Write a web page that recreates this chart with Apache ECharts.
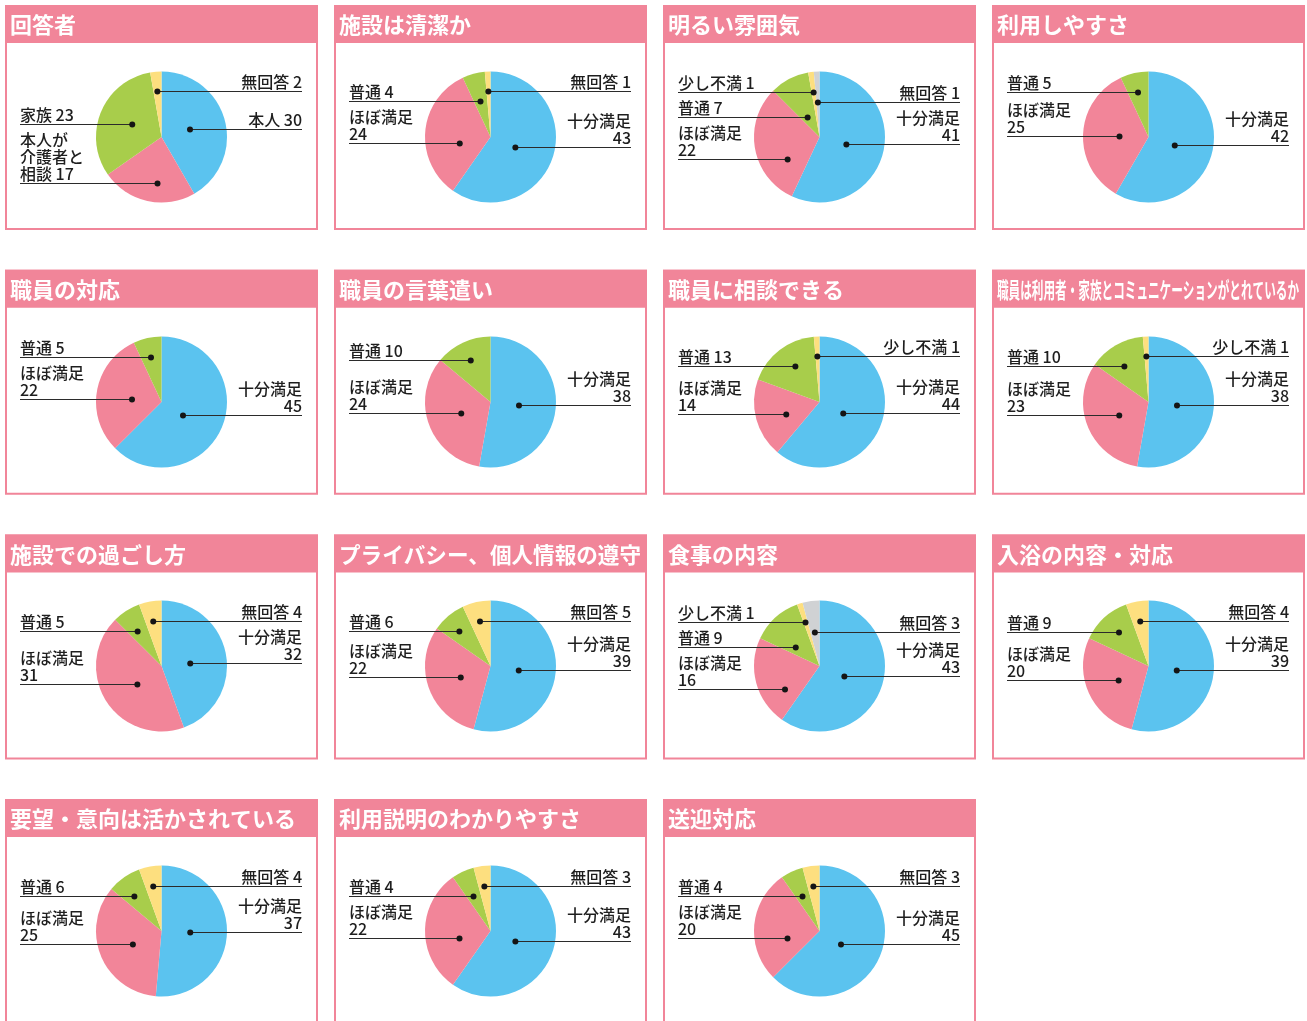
<!DOCTYPE html>
<html>
<head>
<meta charset="utf-8">
<script src="https://cdn.jsdelivr.net/npm/echarts@6/dist/echarts.min.js"></script>
<style>
  html, body { margin: 0; padding: 0; background: #fff; }
  #main { width: 1307px; height: 1021px; }
</style>
</head>
<body>
<div id="main"></div>
<script>
// panel titles
var titles = [
  '回答者', '施設は清潔か', '明るい雰囲気', '利用しやすさ',
  '職員の対応', '職員の言葉遣い', '職員に相談できる', '職員は利用者・家族とコミュニケーションがとれているか',
  '施設での過ごし方', 'プライバシー、個人情報の遵守', '食事の内容', '入浴の内容・対応',
  '要望・意向は活かされている', '利用説明のわかりやすさ', '送迎対応'
];

// categories
var whoNames = ['本人', '本人が\n介護者と\n相談', '家族', '無回答'];
var sat3 = ['十分満足', 'ほぼ満足', '普通'];
var sat4 = ['十分満足', 'ほぼ満足', '普通', '無回答'];
var sat4b = ['十分満足', 'ほぼ満足', '普通', '少し不満'];
var sat5 = ['十分満足', 'ほぼ満足', '普通', '少し不満', '無回答'];

// values (72 answers each)
var vWho = [30, 17, 23, 2];
var vClean = [43, 24, 4, 1];
var vBright = [41, 22, 7, 1, 1];
var vEase = [42, 25, 5];
var vStaff = [45, 22, 5];
var vWords = [38, 24, 10];
var vConsult = [44, 14, 13, 1];
var vCommu = [38, 23, 10, 1];
var vStay = [32, 31, 5, 4];
var vPrivacy = [39, 22, 6, 5];
var vMeal = [43, 16, 9, 1, 3];
var vBath = [39, 20, 9, 4];
var vWish = [37, 25, 6, 4];
var vExplain = [43, 22, 4, 3];
var vPickup = [45, 20, 4, 3];

var panelNames = [whoNames, sat4, sat5, sat3, sat3, sat3, sat4b, sat4b, sat4, sat4, sat5, sat4, sat4, sat4, sat4];
var panelValues = [vWho, vClean, vBright, vEase, vStaff, vWords, vConsult, vCommu, vStay, vPrivacy, vMeal, vBath, vWish, vExplain, vPickup];

var palette = ['#5bc3ef', '#f28599', '#a8cd4b', '#fddf7f', '#d0d2d4'];
var pink = '#f18599';
var fontJP = '"Noto Sans CJK JP", "Noto Sans", sans-serif';

var R = 65.5, LH = 17, GAP = 8;

function labelText(name, value) {
  return name.indexOf('満足') >= 0 ? name + '\n' + value : name + ' ' + value;
}

// work out where each label line and its dot go
function layoutPanel(idx, names, vals) {
  var col = idx % 4, row = Math.floor(idx / 4);
  var ox = 5 + col * 329, oy = 5 + row * 264.7;
  var cx = ox + 156.5, cy = oy + 132;
  var total = vals.reduce(function (a, b) { return a + b; }, 0);
  var acc = 0;
  var items = vals.map(function (v, k) {
    var s = acc / total * 360; acc += v; var e = acc / total * 360;
    var mid = (s + e) / 2, share = v / total;
    var f = share >= 0.2 ? 0.5 : 0.7;
    var right = k === 0 || (k === vals.length - 1 && vals.length >= 4);
    var lines = labelText(names[k], v).split('\n').length;
    return { k: k, s: s, e: e, mid: mid, f: f, share: share, right: right, h: lines * LH,
      y: -f * R * Math.cos(mid * Math.PI / 180) };
  });
  function settle(side) {
    var list = items.filter(function (it) { return it.right === side; })
      .sort(function (a, b) { return a.y - b.y; });
    for (var j = 1; j < list.length; j++) {
      list[j].y = Math.max(list[j].y, list[j - 1].y + list[j].h + GAP);
    }
  }
  settle(false); settle(true);
  // near the top the dots of both sides sit close together: keep their lines apart
  items.forEach(function (l) {
    if (l.right || l.y > -20) return;
    items.forEach(function (r) {
      if (!r.right || r.y > -20 || Math.abs(l.y - r.y) >= 10) return;
      if (l.share > r.share) l.y = r.y + 10; else r.y = l.y + 10;
    });
  });
  settle(false); settle(true);
  items.forEach(function (it) {
    it.y = Math.round(it.y);
    var lo = Infinity, hi = -Infinity;
    for (var x = -R; x <= R; x += 0.25) {
      if (x * x + it.y * it.y > Math.pow(0.88 * R, 2)) continue;
      var a = Math.atan2(x, -it.y) * 180 / Math.PI;
      if (a < 0) a += 360;
      if (a >= it.s && a <= it.e) { lo = Math.min(lo, x); hi = Math.max(hi, x); }
    }
    it.x = lo <= hi ? (lo + hi) / 2 : it.f * R * Math.sin(it.mid * Math.PI / 180);
  });
  return { ox: ox, oy: oy, cx: cx, cy: Math.round(cy), items: items };
}

var layouts = panelValues.map(function (vals, i) { return layoutPanel(i, panelNames[i], vals); });

var measureCtx = document.createElement('canvas').getContext('2d');

var graphics = [];
var series = [];

layouts.forEach(function (L, i) {
  // box + header
  graphics.push({
    type: 'rect', z: 0,
    shape: { x: L.ox + 1, y: L.oy + 1, width: 311, height: 223 },
    style: { fill: '#fff', stroke: pink, lineWidth: 2 }
  });
  graphics.push({
    type: 'rect', z: 1,
    shape: { x: L.ox, y: L.oy, width: 313, height: 38 },
    style: { fill: pink }
  });
  var titleFont = 'bold 22px ' + fontJP;
  measureCtx.font = titleFont;
  var tw = measureCtx.measureText(titles[i]).width;
  graphics.push({
    type: 'text', z: 2,
    x: L.ox + 5, y: L.oy + 20,
    scaleX: Math.min(1, 302 / tw),
    style: { text: titles[i], x: 0, y: 0, fill: '#fff', font: titleFont, verticalAlign: 'middle' }
  });
  // leader lines and dots
  L.items.forEach(function (it) {
    var ly = L.cy + it.y + 0.5;
    var dx = L.cx + it.x;
    graphics.push({
      type: 'line', z: 99,
      shape: it.right
        ? { x1: dx, y1: ly, x2: L.ox + 297, y2: ly }
        : { x1: L.ox + 15, y1: ly, x2: dx, y2: ly },
      style: { stroke: '#2b2b2b', lineWidth: 1.2 }
    });
    graphics.push({
      type: 'circle', z: 100,
      shape: { cx: dx, cy: ly, r: 3 },
      style: { fill: '#151515' }
    });
  });

  series.push({
    type: 'pie',
    center: [L.cx, L.cy],
    radius: R,
    startAngle: 90,
    clockwise: true,
    avoidLabelOverlap: false,
    silent: true,
    animation: false,
    data: panelValues[i].map(function (v, k) {
      return { name: panelNames[i][k], value: v, itemStyle: { color: palette[k] } };
    }),
    label: {
      show: true,
      position: 'outside',
      formatter: function (p) { return labelText(p.name, p.value); },
      fontFamily: fontJP,
      fontSize: 16,
      fontWeight: 500,
      lineHeight: LH,
      color: '#1e1e1e'
    },
    labelLine: { show: false },
    labelLayout: function (p) {
      var lay = layouts[i];
      var it = lay.items[p.dataIndex];
      var ly = lay.cy + it.y;
      return it.right
        ? { x: lay.ox + 297, y: ly - 1, align: 'right', verticalAlign: 'bottom' }
        : { x: lay.ox + 15, y: ly - 1, align: 'left', verticalAlign: 'bottom' };
    }
  });
});

var myChart = echarts.init(document.getElementById('main'), null, { renderer: 'canvas' });
myChart.setOption({
  animation: false,
  graphic: { elements: graphics },
  series: series
});
</script>
</body>
</html>
